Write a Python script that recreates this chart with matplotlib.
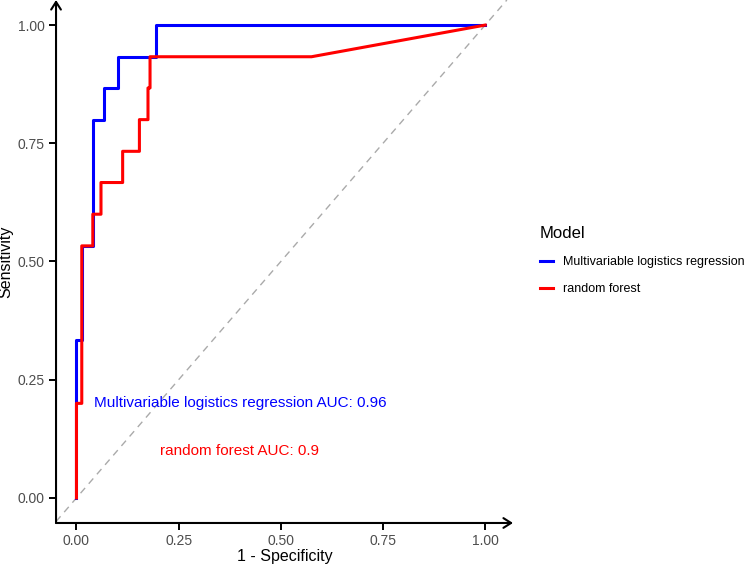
import matplotlib
matplotlib.use("Agg")
import matplotlib.pyplot as plt
from matplotlib.lines import Line2D

plt.rcParams["font.family"] = ["Liberation Sans", "DejaVu Sans"]

# ROC curve points (1 - specificity, sensitivity)
lr_fpr = [0.0, 0.0, 0.013, 0.013, 0.04, 0.04, 0.067, 0.067, 0.101, 0.101, 0.194, 0.194, 1.0]
lr_tpr = [0.0, 0.333, 0.333, 0.533, 0.533, 0.8, 0.8, 0.867, 0.867, 0.933, 0.933, 1.0, 1.0]

rf_fpr = [0.0, 0.0, 0.013, 0.013, 0.04, 0.04, 0.06, 0.06, 0.113, 0.113, 0.154, 0.154,
          0.175, 0.175, 0.18, 0.18, 0.575, 1.0]
rf_tpr = [0.0, 0.2, 0.2, 0.533, 0.533, 0.6, 0.6, 0.667, 0.667, 0.733, 0.733, 0.8,
          0.8, 0.867, 0.867, 0.933, 0.933, 1.0]

model_names = ["Multivariable logistics regression", "random forest"]
model_auc = ["0.96", "0.9"]
model_colors = ["#0000FF", "#FF0000"]
ticks = [0.0, 0.25, 0.5, 0.75, 1.0]
tick_labels = ["0.00", "0.25", "0.50", "0.75", "1.00"]

fig = plt.figure(figsize=(7.5, 5.66), dpi=100)
ax = fig.add_axes([0.0747, 0.076, 0.6093, 0.924])
ax.set_xlim(-0.05, 1.068)
ax.set_ylim(-0.053, 1.053)

# chance line across the whole panel
ax.axline((0, 0), (1, 1), color="#AAAAAA", lw=1.0, ls=(0, (5, 4)), zorder=1)

ax.plot(lr_fpr, lr_tpr, color=model_colors[0], lw=2.2, zorder=3)
ax.plot(rf_fpr, rf_tpr, color=model_colors[1], lw=2.2, zorder=4)

ax.text(0.4, 0.2, f"{model_names[0]} AUC: {model_auc[0]}", color=model_colors[0],
        fontsize=11, ha="center", va="center")
ax.text(0.4, 0.1, f"{model_names[1]} AUC: {model_auc[1]}", color=model_colors[1],
        fontsize=11, ha="center", va="center")

# axis lines with arrows, ggplot-like
for sp in ax.spines.values():
    sp.set_visible(False)
arrow = dict(arrowstyle="->,head_length=0.55,head_width=0.35", lw=1.5, color="black",
             shrinkA=0, shrinkB=0)
ax.annotate("", xy=(1, 0), xytext=(0, 0), xycoords="axes fraction", arrowprops=arrow)
ax.annotate("", xy=(0, 1), xytext=(0, 0), xycoords="axes fraction", arrowprops=arrow)

ax.set_xticks(ticks)
ax.set_xticklabels(tick_labels)
ax.set_yticks(ticks)
ax.set_yticklabels(tick_labels)
ax.tick_params(length=5, width=1.4, color="black", labelsize=10, labelcolor="#4D4D4D", pad=3)

ax.set_xlabel("1 - Specificity", fontsize=11.5, labelpad=1)
ax.set_ylabel("Sensitivity", fontsize=11.5, labelpad=3)

handles = [Line2D([], [], color=c, lw=2.2) for c in model_colors]
leg = fig.legend(handles, model_names, title="Model", loc="upper left",
                 bbox_to_anchor=(0.716, 1 - 224 / 566), frameon=False, fontsize=9,
                 title_fontsize=12, handlelength=1.1, handletextpad=0.8,
                 labelspacing=1.2, borderaxespad=0.0, borderpad=0.2)
leg._legend_box.align = "left"

fig.savefig("out.png", dpi=100)
